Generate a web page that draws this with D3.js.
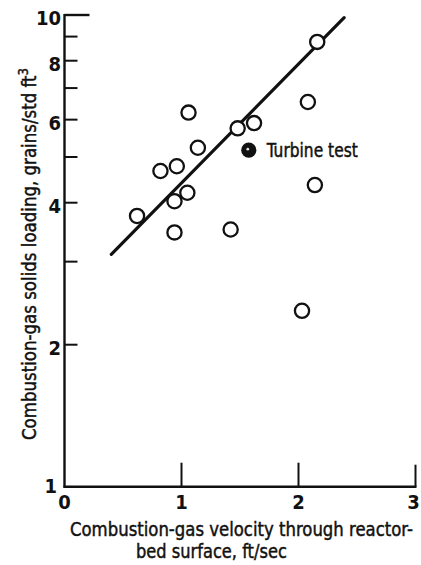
<!DOCTYPE html>
<html>
<head>
<meta charset="utf-8">
<script src="https://cdn.jsdelivr.net/npm/d3@7"></script>
<style>
  html, body { margin: 0; padding: 0; background: #fff; }
  svg { display: block; }
  text { font-family: "Liberation Sans Narrow", "DejaVu Sans Condensed", "Arial Narrow", sans-serif; fill: #111; }
  text.title { stroke: #111; stroke-width: 0.45; }
</style>
</head>
<body>
<svg id="chart" width="421" height="565"></svg>
<script>
// Measured test points: gas velocity (ft/sec) vs solids loading (grains/std ft^3)
const velocity = [0.62, 0.82, 0.96, 1.06, 1.14, 0.94, 1.05, 0.94, 1.42, 1.48, 1.62, 2.08, 2.16, 2.14, 2.03];
const loading  = [3.75, 4.67, 4.78, 6.21, 5.23, 4.03, 4.20, 3.46, 3.51, 5.75, 5.90, 6.54, 8.77, 4.36, 2.36];

// Turbine test point (solid symbol)
const turbineVelocity = [1.575];
const turbineLoading  = [5.17];
const turbineLabel = "Turbine test";

// Fitted line end points
const fitVelocity = [0.40, 2.39];
const fitLoading  = [3.11, 9.87];

// Axis ticks
const xTicks = [0, 1, 2, 3];
const yTicks = [1, 2, 3, 4, 5, 6, 7, 8, 9, 10];
const yTickLabels = [1, 2, 4, 6, 8, 10];

const xTitle = ["Combustion-gas velocity through reactor-", "bed surface,  ft/sec"];
const yTitle = "Combustion-gas solids loading, grains/std ft";

const svg = d3.select("#chart");

const x = d3.scaleLinear().domain([0, 3]).range([64.5, 415.5]);
const y = d3.scaleLog().domain([1, 10]).range([486.7, 15]);

const ink = "#111";

// Squeeze a text horizontally (in its own direction) to a target width
function fitWidth(sel, px, py, width, rotate) {
  const w = sel.node().getComputedTextLength();
  const s = width / w;
  sel.attr("transform", `translate(${px},${py})${rotate ? " rotate(" + rotate + ")" : ""} scale(${s},1)`);
}

// Y axis with inward ticks and a short top stub
svg.append("line")
  .attr("x1", x(0)).attr("x2", x(0))
  .attr("y1", y(10) - 1).attr("y2", y(1) + 1)
  .attr("stroke", ink).attr("stroke-width", 2.4);
svg.append("line")
  .attr("x1", x(0)).attr("x2", x(0) + 25)
  .attr("y1", y(10)).attr("y2", y(10))
  .attr("stroke", ink).attr("stroke-width", 2.4);
svg.selectAll("line.ytick")
  .data(yTicks.filter(d => d > 1 && d < 10))
  .join("line")
  .attr("class", "ytick")
  .attr("x1", x(0)).attr("x2", x(0) + 13)
  .attr("y1", d => y(d)).attr("y2", d => y(d))
  .attr("stroke", ink).attr("stroke-width", 2);
svg.selectAll("text.ylab")
  .data(yTickLabels)
  .join("text")
  .attr("class", "ylab")
  .attr("x", d => d === 1 ? 57 : 61)
  .attr("y", d => y(d) + (d === 1 ? -1 : 3))
  .attr("dy", "0.35em")
  .attr("text-anchor", "end")
  .attr("font-size", 20)
  .attr("font-weight", "bold")
  .text(d => d);

// X axis with inward ticks and a right stub
svg.append("line")
  .attr("x1", x(0) - 1).attr("x2", x(3) + 1)
  .attr("y1", y(1)).attr("y2", y(1))
  .attr("stroke", ink).attr("stroke-width", 2.4);
svg.selectAll("line.xtick")
  .data(xTicks.filter(d => d > 0))
  .join("line")
  .attr("class", "xtick")
  .attr("x1", d => x(d)).attr("x2", d => x(d))
  .attr("y1", y(1)).attr("y2", d => y(1) - (d === 3 ? 22 : 24))
  .attr("stroke", ink).attr("stroke-width", 2);
svg.selectAll("text.xlab")
  .data(xTicks)
  .join("text")
  .attr("class", "xlab")
  .attr("x", d => x(d) - (d === 3 ? 2 : 0))
  .attr("y", y(1) + 15)
  .attr("dy", "0.35em")
  .attr("text-anchor", "middle")
  .attr("font-size", 20)
  .attr("font-weight", "bold")
  .text(d => d);

// Axis titles
const xt1 = svg.append("text").attr("class", "title").attr("font-size", 20).text(xTitle[0]);
fitWidth(xt1, 70, 536, 343);
const xt2 = svg.append("text").attr("class", "title").attr("font-size", 20).text(xTitle[1]);
fitWidth(xt2, 136, 558, 151);

const yt = svg.append("text").attr("class", "title").attr("font-size", 20);
yt.append("tspan").text(yTitle);
yt.append("tspan").attr("dy", -8).attr("font-size", 14).text("3");
fitWidth(yt, 36, 440, 372, -90);

// Fitted line
svg.append("line")
  .attr("x1", x(fitVelocity[0])).attr("y1", y(fitLoading[0]))
  .attr("x2", x(fitVelocity[1])).attr("y2", y(fitLoading[1]))
  .attr("stroke", ink).attr("stroke-width", 3.2).attr("stroke-linecap", "round");

// Open circles
svg.selectAll("circle.pt")
  .data(d3.zip(velocity, loading))
  .join("circle")
  .attr("class", "pt")
  .attr("cx", d => x(d[0])).attr("cy", d => y(d[1]))
  .attr("r", 7.1)
  .attr("fill", "#fff").attr("stroke", ink).attr("stroke-width", 2.3);

// Turbine test point
const tp = d3.zip(turbineVelocity, turbineLoading);
svg.selectAll("circle.turb")
  .data(tp)
  .join("circle")
  .attr("class", "turb")
  .attr("cx", d => x(d[0])).attr("cy", d => y(d[1]))
  .attr("r", 7.6)
  .attr("fill", ink);
svg.selectAll("circle.turbspot")
  .data(tp)
  .join("circle")
  .attr("class", "turbspot")
  .attr("cx", d => x(d[0]) - 1).attr("cy", d => y(d[1]) - 1)
  .attr("r", 1.4)
  .attr("fill", "#ddd");
const tl = svg.append("text")
  .attr("class", "title")
  .attr("dy", "0.36em")
  .attr("font-size", 19)
  .text(turbineLabel);
fitWidth(tl, x(turbineVelocity[0]) + 18, y(turbineLoading[0]), 91);
</script>
</body>
</html>
